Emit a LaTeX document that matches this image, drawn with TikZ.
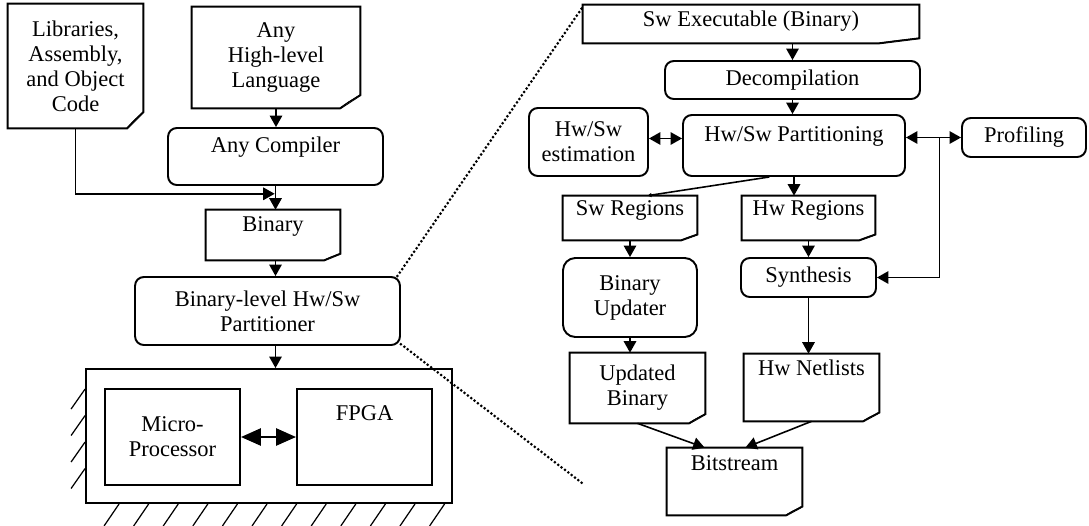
\documentclass[tikz,border=0pt]{standalone}
\usepackage{fontspec}
\setmainfont{Liberation Serif}
\usetikzlibrary{arrows.meta,positioning,calc}

\tikzset{
  blk/.style={draw, line width=1.1pt, rounded corners=5pt, align=center, inner sep=1pt},
  plain/.style={draw, line width=1.1pt, align=center, inner sep=1pt},
  doc/.style={align=center, inner sep=1pt},
  lift/.style={text height=1.5ex, text depth=#1},
  arr/.style={line width=0.9pt, -{Triangle[length=0.23cm,width=0.25cm]}},
  darr/.style={line width=0.9pt, {Triangle[length=0.23cm,width=0.25cm]}-{Triangle[length=0.23cm,width=0.25cm]}},
  bigarr/.style={line width=1.5pt, {Triangle[length=0.4cm,width=0.34cm]}-{Triangle[length=0.4cm,width=0.34cm]}},
  zoomline/.style={line width=1.7pt, line cap=round, dash pattern=on 0pt off 2.4pt},
  hatch/.style={line width=0.7pt},
}
% outline of a document node, with its folded corner
\newcommand{\docshape}[1]{%
  \draw[line width=1.1pt] let \p1=(#1.south west), \p2=(#1.north east),
      \n1={0.12*(\x2-\x1)}, \n2={0.13*(\y2-\y1)} in
    (\x1,\y2) -- (\x2,\y2) -- (\x2,\y1+\n2) -- (\x2-\n1,\y1) -- (\x1,\y1) -- cycle;
  \filldraw[fill=gray!35, line width=0.7pt] let \p1=(#1.south west), \p2=(#1.north east),
      \n1={0.12*(\x2-\x1)}, \n2={0.13*(\y2-\y1)} in
    (\x2,\y1+\n2) -- (\x2-0.6*\n1,\y1+0.45*\n2) -- (\x2-\n1,\y1);
}

\begin{document}
\begin{tikzpicture}[x=0.02cm, y=-0.02cm, font=\fontsize{12.8}{14.2}\selectfont]
  \useasboundingbox (0,0) rectangle (1089,525);

  % left: tool flow down to the board
  \node[doc, minimum width=2.7cm, minimum height=2.48cm] (lib) at (75.5,66) {Libraries,\\Assembly,\\and Object\\Code};
  \node[doc, minimum width=3.36cm, minimum height=2.02cm] (hll) at (276,57.5) {Any\\High-level\\Language};
  \node[blk, lift=0.4cm, minimum width=4.3cm, minimum height=1.14cm] (cmp) at (275.5,156.5) {Any Compiler};
  \node[doc, lift=0.38cm, minimum width=2.68cm, minimum height=1.0cm] (bin) at (273,235) {Binary};
  \node[blk, minimum width=5.3cm, minimum height=1.36cm] (part) at (267.5,311) {Binary-level Hw/Sw\\Partitioner};
  \node[plain, minimum width=7.32cm, minimum height=2.68cm] (board) at (269,436) {};
  \node[plain, minimum width=2.7cm, minimum height=1.92cm] (mp) at (172.5,437) {Micro-\\Processor};
  \node[plain, lift=0.9cm, minimum width=2.7cm, minimum height=1.92cm] (fpga) at (364.5,437) {FPGA};
  \docshape{lib}
  \docshape{hll}
  \docshape{bin}

  \coordinate (jn) at ($(cmp.south)!0.33!(bin.north)$);
  \draw[arr] (hll.south) -- (hll.south |- cmp.north);
  \draw[arr] (cmp.south) -- (cmp.south |- bin.north);
  \draw[arr] (lib.south) |- (jn);
  \draw[arr] (cmp.south |- bin.south) -- (cmp.south |- part.north);
  \draw[arr] (cmp.south |- part.south) -- (cmp.south |- board.north);
  \draw[bigarr] (mp.east) -- (fpga.west);

  \foreach \k in {0,...,11}
    \draw[hatch] ([xshift=0.68cm+\k*0.592cm]board.south west) -- ++(-15,22);
  \foreach \k in {0,...,3}
    \draw[hatch] ([yshift=-0.42cm-\k*0.53cm]board.north west) -- ++(-14,20);

  % zoom lines
  \coordinate (zt) at (582,8);
  \coordinate (zb) at (582,483);
  \draw[zoomline] ([xshift=-2pt]part.north east) -- (zt);
  \draw[zoomline] ([yshift=1pt]part.south east) -- (zb);

  % right: inside the partitioner
  \node[doc, lift=0.14cm, minimum width=6.72cm, minimum height=0.76cm] (exe) at (751,24) {Sw Executable (Binary)};
  \node[blk, minimum width=5.1cm, minimum height=0.76cm] (dec) at (792.5,80) {Decompilation};
  \node[blk, lift=0.4cm, minimum width=4.44cm, minimum height=1.22cm] (hsp) at (794,145.5) {Hw/Sw Partitioning};
  \node[blk, minimum width=2.38cm, minimum height=1.36cm] (est) at (588.5,142) {Hw/Sw\\estimation};
  \node[blk, minimum width=2.48cm, minimum height=0.78cm] (prof) at (1024,137.5) {Profiling};
  \node[doc, lift=0.34cm, minimum width=2.68cm, minimum height=0.88cm] (swr) at (630,218) {Sw Regions};
  \node[doc, lift=0.34cm, minimum width=2.66cm, minimum height=0.88cm] (hwr) at (808.5,218) {Hw Regions};
  \node[blk, rounded corners=7pt, minimum width=2.68cm, minimum height=1.58cm] (upd) at (630,297.5) {Binary\\Updater};
  \node[blk, minimum width=2.7cm, minimum height=0.78cm] (syn) at (808.5,277.5) {Synthesis};
  \node[doc, minimum width=2.7cm, minimum height=1.4cm] (ubin) at (637.5,388) {Updated\\Binary};
  \node[doc, lift=0.72cm, minimum width=2.7cm, minimum height=1.34cm] (net) at (811.5,387.5) {Hw Netlists};
  \node[doc, lift=0.68cm, minimum width=2.7cm, minimum height=1.34cm] (bits) at (734.5,481.5) {Bitstream};
  \docshape{exe}
  \docshape{swr}
  \docshape{hwr}
  \docshape{ubin}
  \docshape{net}
  \docshape{bits}

  \coordinate (tap) at ($(prof.west -| hsp.east)!0.61!(prof.west)$);
  \draw[arr] (dec.north |- exe.south) -- (dec.north);
  \draw[arr] (dec.south) -- (dec.south |- hsp.north);
  \draw[darr] ([yshift=2pt]est.east) -- ([yshift=2pt]est.east -| hsp.west);
  \draw[darr] (prof.west -| hsp.east) -- (prof.west);
  \draw[arr] (tap) |- (syn.east);
  \draw[line width=0.9pt, -{Triangle[length=0.08cm,width=0.08cm]}] ($(hsp.south west)!0.39!(hsp.south east)$) -- ($(swr.north west)!0.63!(swr.north east)$);
  \draw[arr] (hsp.south) -- (hsp.south |- hwr.north);
  \draw[arr] (swr.south) -- (upd.north);
  \draw[arr] (upd.south) -- (upd.south |- ubin.north);
  \draw[arr] (hwr.south) -- (syn.north);
  \draw[arr] (syn.south) -- (syn.south |- net.north);
  \draw[arr] (ubin.south) -- ($(bits.north west)!0.28!(bits.north east)$);
  \draw[arr] (net.south) -- ($(bits.north west)!0.58!(bits.north east)$);
\end{tikzpicture}
\end{document}
